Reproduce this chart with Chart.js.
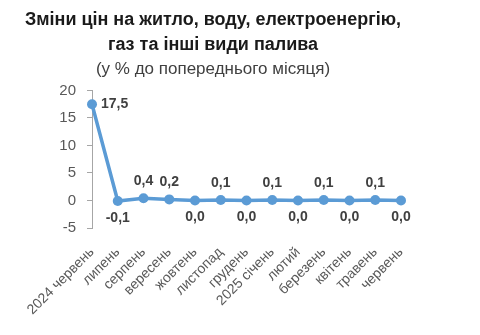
<!DOCTYPE html>
<html>
<head>
<meta charset="utf-8">
<script src="https://cdn.jsdelivr.net/npm/chart.js@4"></script>
<style>
  html, body { margin: 0; padding: 0; background: #fff; }
  #wrap { width: 480px; height: 335px; }
</style>
</head>
<body>
<div id="wrap"><canvas id="mycanvas" width="480" height="335"></canvas></div>
<script>
var months = ['2024 червень', 'липень', 'серпень', 'вересень', 'жовтень', 'листопад',
  'грудень', '2025 січень', 'лютий', 'березень', 'квітень', 'травень', 'червень'];
var values = [17.5, -0.1, 0.4, 0.2, 0.0, 0.1, 0.0, 0.1, 0.0, 0.1, 0.0, 0.1, 0.0];
var yTicks = [-5, 0, 5, 10, 15, 20];

var fontName = '"Liberation Sans", Arial, sans-serif';

// value labels next to the points, like excel data labels
var pointLabels = {
  id: 'pointLabels',
  afterDatasetsDraw: function(chart) {
    var ctx = chart.ctx;
    var meta = chart.getDatasetMeta(0);
    ctx.save();
    ctx.font = 'bold 14px ' + fontName;
    ctx.fillStyle = '#404040';
    ctx.textBaseline = 'middle';
    meta.data.forEach(function(pt, i) {
      var v = values[i];
      var txt = v.toFixed(1).replace('.', ',');
      if (i === 0) {
        ctx.textAlign = 'left';
        ctx.fillText(txt, pt.x + 9, pt.y);
      } else if (v > 0) {
        ctx.textAlign = 'center';
        ctx.fillText(txt, pt.x, pt.y - 17);
      } else {
        ctx.textAlign = 'center';
        ctx.fillText(txt, pt.x, pt.y + 17);
      }
    });
    ctx.restore();
  }
};

var ctx = document.getElementById('mycanvas');

var lineGraph = new Chart(ctx, {
  type: 'line',
  data: {
    labels: months,
    datasets: [{
      data: values,
      borderColor: '#5B9BD5',
      backgroundColor: '#5B9BD5',
      borderWidth: 3.5,
      pointRadius: 5,
      pointBorderWidth: 0,
      pointBackgroundColor: '#5B9BD5',
      tension: 0
    }]
  },
  options: {
    responsive: false,
    animation: false,
    layout: { padding: { left: 25, right: 79, top: 0, bottom: 0 } },
    plugins: {
      legend: { display: false },
      tooltip: { enabled: false },
      title: {
        display: true,
        text: ['Зміни цін на житло, воду, електроенергію,', 'газ та інші види палива'],
        color: '#1a1a1a',
        font: { family: fontName, size: 18, weight: 'bold', lineHeight: 1.39 },
        padding: { top: 8, bottom: 0 }
      },
      subtitle: {
        display: true,
        text: '(у % до попереднього місяця)',
        color: '#404040',
        font: { family: fontName, size: 17, lineHeight: 1.2 },
        padding: { top: 1, bottom: 11 }
      }
    },
    scales: {
      x: {
        offset: false,
        grid: { display: false },
        border: { display: false },
        ticks: {
          autoSkip: false,
          minRotation: 45,
          maxRotation: 45,
          padding: 8,
          color: '#595959',
          font: { family: fontName, size: 14 }
        },
        afterFit: function(scale) { scale.height = 107; }
      },
      y: {
        min: -5,
        max: 20,
        afterBuildTicks: function(scale) {
          scale.ticks = yTicks.map(function(v) { return { value: v }; });
        },
        grid: { display: true, drawOnChartArea: false, drawTicks: true, tickLength: 5, color: '#a6a6a6' },
        border: { display: true, color: '#a6a6a6', width: 1 },
        ticks: {
          padding: 11,
          color: '#595959',
          font: { family: fontName, size: 15 }
        },
        afterFit: function(scale) { scale.width = 67; }
      }
    }
  },
  plugins: [pointLabels]
});
</script>
</body>
</html>
